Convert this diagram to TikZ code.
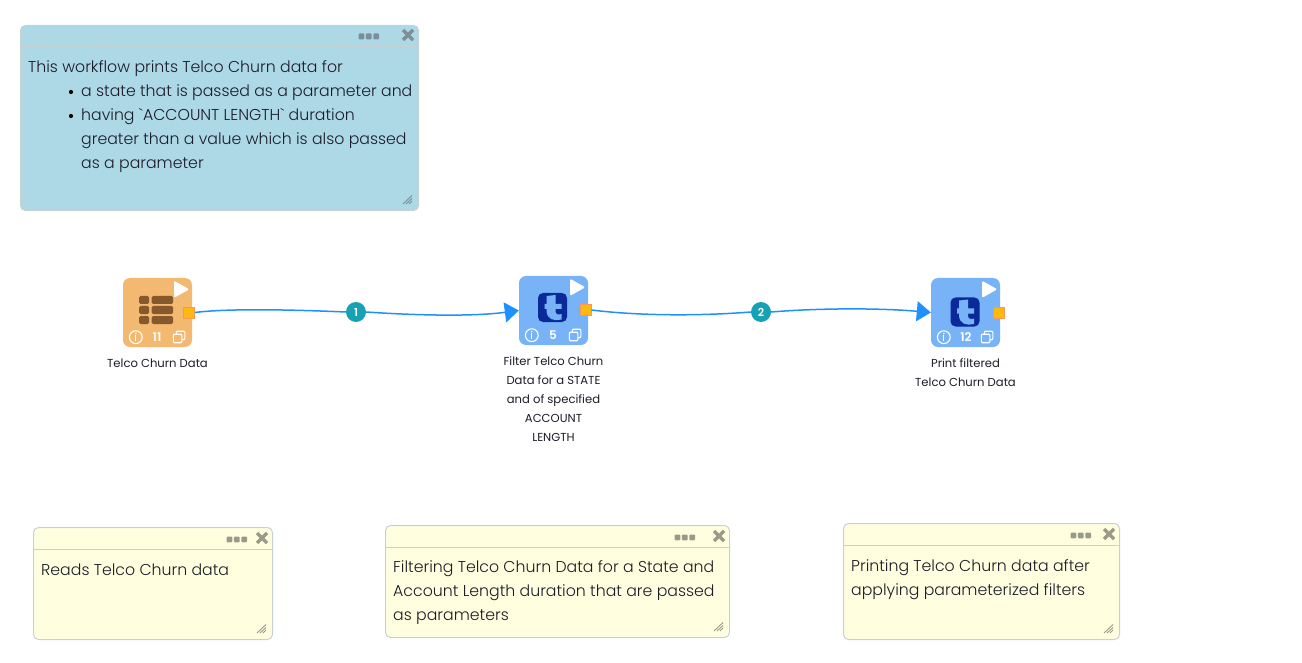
\documentclass[tikz,border=0pt]{standalone}
\usepackage{fontspec}
\setmainfont{Poppins Light}[Ligatures=TeXOff]
\newfontfamily\regfont{Poppins}
\newfontfamily\medfont{Poppins SemiBold}
\usetikzlibrary{arrows.meta,calc}
\definecolor{notecyan}{HTML}{ADD8E6}
\definecolor{noteyel}{HTML}{FFFFE0}
\definecolor{noteedge}{HTML}{C9D0D4}
\definecolor{opblue}{HTML}{78B3F8}
\definecolor{oporange}{HTML}{F4B970}
\definecolor{tdark}{HTML}{0A2A9A}
\definecolor{griddark}{HTML}{85592B}
\definecolor{portfill}{HTML}{FDB813}
\definecolor{portedge}{HTML}{F49B50}
\definecolor{wire}{HTML}{1E90FF}
\definecolor{badgec}{HTML}{18A0B4}
\definecolor{textc}{HTML}{1C1C28}
\definecolor{chromeb}{HTML}{7C8E96}
\definecolor{chromey}{HTML}{9A9A88}
\tikzset{
  x=1pt,y=-1pt,
  notebox/.style={draw=noteedge,line width=1pt,rounded corners=5pt,inner sep=0pt,anchor=north west},
  opbox/.style={rounded corners=7pt,inner sep=0pt,minimum width=69pt,minimum height=69pt},
  porto/.style={draw=portedge,fill=portfill,line width=.8pt,inner sep=0pt,minimum width=11pt,minimum height=11pt},
  notetext/.style={anchor=base west,inner sep=0pt,font=\fontsize{15.75}{24}\selectfont,text=textc},
  optext/.style={anchor=base,inner sep=0pt,font=\regfont\fontsize{11.6}{19}\selectfont,text=textc,align=center},
  badge/.style={circle,fill=badgec,text=white,inner sep=0pt,minimum size=20pt,font=\medfont\fontsize{11}{11}\selectfont},
  wireline/.style={draw=wire,line width=1.5pt},
  wirehead/.style={wireline,-{Triangle[length=14pt,width=20pt]}},
  count/.style={text=white,inner sep=0pt,font=\medfont\fontsize{12}{12}\selectfont},
  icon/.style={draw=white,line width=1.1pt},
}
% note chrome: #1 east x, #2 south y, #3 header y, #4 west x, #5 chrome colour, #6 dots offset
\newcommand{\notechrome}[6]{%
  \draw[noteedge,line width=.8pt] (#4,#3) -- (#1,#3);
  \foreach \k in {0,1,2}{\fill[#5,rounded corners=1pt] ({#1-#6+\k*7.4},{#3-12.5}) rectangle ++(5.8,5.8);}
  \draw[#5,line width=3.4pt] ({#1-15.5},{#3-16}) -- ++(10,10) ({#1-5.5},{#3-16}) -- ++(-10,10);
  \draw[#5,line width=.9pt] ({#1-15.5},{#2-6.5}) -- ({#1-6.5},{#2-15})
    ({#1-12.5},{#2-6.5}) -- ({#1-6.5},{#2-12}) ({#1-9.5},{#2-6.5}) -- ({#1-6.5},{#2-9.5});
}
% op chrome: #1 box name
\newcommand{\opchrome}[1]{%
  \fill[white,rounded corners=1.2pt] ($(#1.north east)+(-18,3)$) -- ++(15,8.5) -- ++(-15,8.5) -- cycle;
  \draw[icon] ($(#1.south west)+(13,-10)$) circle (6.4);
  \fill[white] ($(#1.south west)+(13,-13.6)$) circle (.8);
  \draw[white,line width=1.3pt] ($(#1.south west)+(13,-11.8)$) -- ++(0,5.3);
  \draw[icon,rounded corners=1pt] ($(#1.south west)+(50.5,-4.5)$) rectangle ++(8.5,-8.5);
  \draw[icon,rounded corners=1pt] ($(#1.south west)+(53.5,-13)$) -- ++(0,-3) -- ++(8.5,0) -- ++(0,8.5) -- ++(-3,0);
}
\newcommand{\ticon}[1]{%
  \begin{scope}[shift={(#1)}]
  \fill[tdark,rounded corners=5pt] (-14.5,-14.5) rectangle (14.5,14.5);
  \fill[opblue] (-6,-11.5) -- (3,-12.5) -- (3,-3.5) -- (9,-3.5) -- (9,1.5) -- (3,1.5) -- (3,4)
    .. controls (3,7) and (6,7.5) .. (9,6.5) -- (9,12) .. controls (2,14) and (-6,12) .. (-6,3)
    -- (-6,1.5) -- (-8,1.5) -- (-8,-3.5) -- (-6,-3.5) -- cycle;
  \end{scope}
}
\begin{document}
\begin{tikzpicture}
\useasboundingbox (0,0) rectangle (1302,663);
% notes
\node[notebox,fill=notecyan,minimum width=398pt,minimum height=185pt] (noteMain) at (20,25) {};
\notechrome{418.5}{210.5}{46}{20}{chromeb}{60}
\node[notetext] (m1) at (28,72.5) {This workflow prints Telco Churn data for};
\fill[black] (71,92) circle (2.1);
\fill[black] (71,116) circle (2.1);
\node[notetext] (m2) at (81,96.5) {a state that is passed as a parameter and};
\node[notetext] (m3) at (81,120.5) {having `ACCOUNT LENGTH` duration};
\node[notetext] (m4) at (81,144.5) {greater than a value which is also passed};
\node[notetext] (m5) at (81,168.5) {as a parameter};

\node[notebox,fill=noteyel,minimum width=239pt,minimum height=112pt] (noteA) at (33,527) {};
\notechrome{272.5}{639.5}{549}{33}{chromey}{46}
\node[notetext] (a1) at (41,575) {Reads Telco Churn data};

\node[notebox,fill=noteyel,minimum width=344pt,minimum height=112pt] (noteB) at (385,525) {};
\notechrome{729.5}{637.5}{547}{385}{chromey}{55}
\node[notetext] (b1) at (393,572) {Filtering Telco Churn Data for a State and};
\node[notetext] (b2) at (393,596) {Account Length duration that are passed};
\node[notetext] (b3) at (393,620) {as parameters};

\node[notebox,fill=noteyel,minimum width=276pt,minimum height=116pt] (noteC) at (843,523) {};
\notechrome{1119.5}{639.5}{545}{843}{chromey}{49}
\node[notetext] (c1) at (851,571) {Printing Telco Churn data after};
\node[notetext] (c2) at (851,595) {applying parameterized filters};

% operators
\node[opbox,fill=oporange] (opA) at (157.5,312.5) {};
\node[opbox,fill=opblue] (opB) at (553.5,310.5) {};
\node[opbox,fill=opblue] (opC) at (965.5,312.5) {};
\node[porto] (portA) at (189,312.5) {};
\node[porto] (portB) at (585.5,310) {};
\node[porto] (portC) at (998.5,312.5) {};
\node[badge] (b1n) at (356,312) {1};
\node[badge] (b2n) at (761,312) {2};

% connectors
\draw[wireline] (portA.east) .. controls (230,308) and (300,310) .. (b1n.west);
\draw[wirehead] (b1n.east) .. controls (410,315) and (470,317) .. (opB.west);
\draw[wireline] (portB.east) .. controls (640,316) and (700,316) .. (b2n.west);
\draw[wirehead] (b2n.east) .. controls (820,308) and (880,308) .. (opC.west);

% icons
\foreach \r in {296,306,316}{
  \fill[griddark,rounded corners=1.5pt] (139,\r) rectangle ++(10,8);
  \fill[griddark,rounded corners=1.5pt] (151.5,\r) rectangle ++(21.5,8);
}
\opchrome{opA}
\node[count] (cA) at (157,337.5) {11};
\ticon{552.5,307.5}
\opchrome{opB}
\node[count] (cB) at (553,335.5) {5};
\ticon{965,312}
\opchrome{opC}
\node[count] (cC) at (966,337.5) {12};

% labels
\node[optext] (la) at (157.5,367) {Telco Churn Data};
\node[optext] (lb1) at (553.5,365) {Filter Telco Churn};
\node[optext] (lb2) at (553.5,384) {Data for a STATE};
\node[optext] (lb3) at (553.5,403) {and of specified};
\node[optext] (lb4) at (553.5,422) {ACCOUNT};
\node[optext] (lb5) at (553.5,441) {LENGTH};
\node[optext] (lc1) at (965.5,367) {Print filtered};
\node[optext] (lc2) at (965.5,386) {Telco Churn Data};
\end{tikzpicture}
\end{document}
